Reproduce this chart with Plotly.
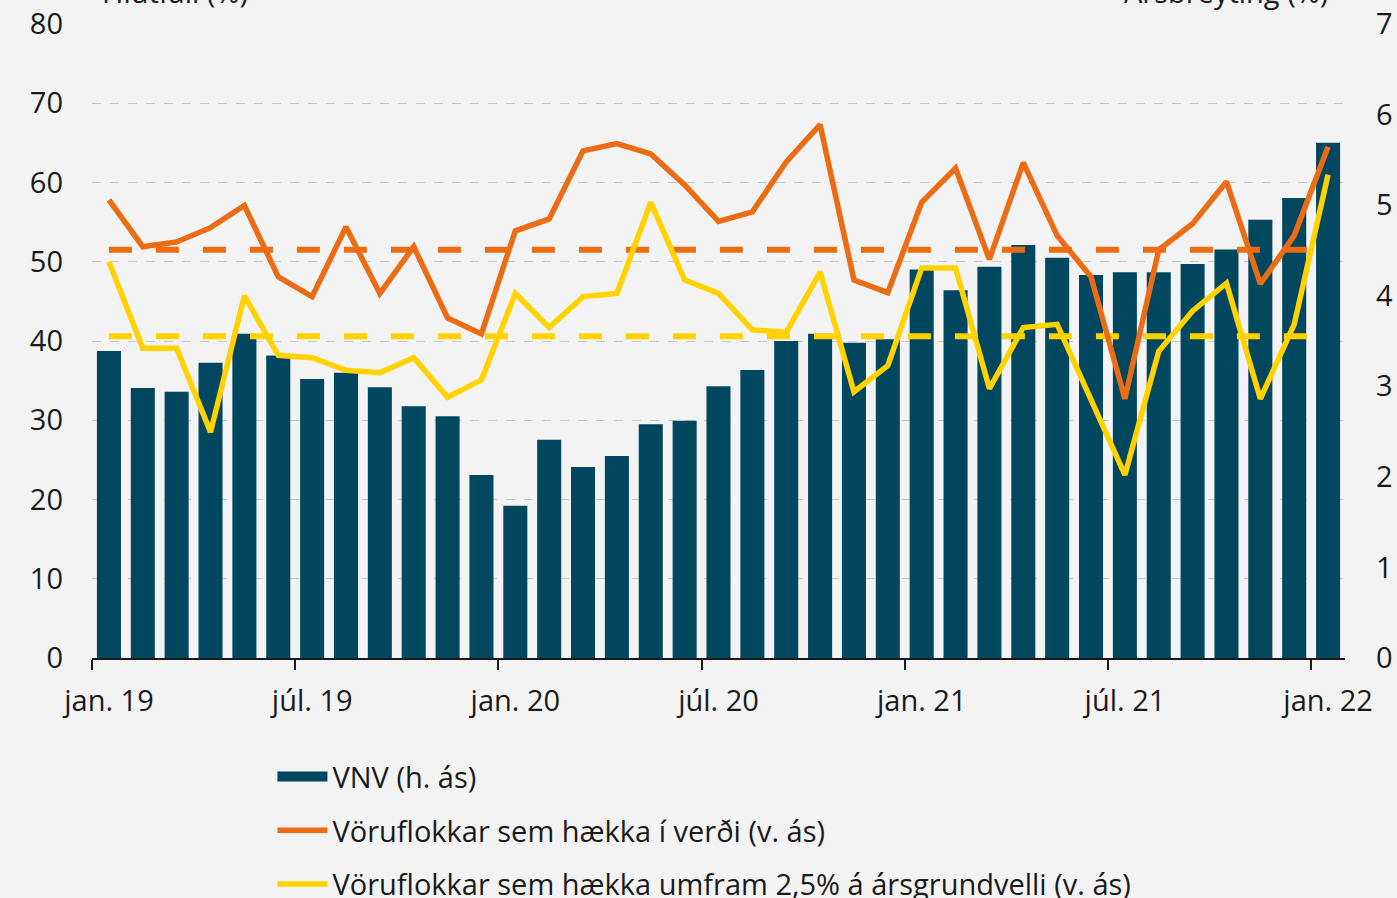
import plotly.graph_objects as go

months = ["jan. 19", "feb. 19", "mar. 19", "apr. 19", "maí 19", "jún. 19", "júl. 19", "ágú. 19", "sep. 19", "okt. 19", "nóv. 19", "des. 19",
          "jan. 20", "feb. 20", "mar. 20", "apr. 20", "maí 20", "jún. 20", "júl. 20", "ágú. 20", "sep. 20", "okt. 20", "nóv. 20", "des. 20",
          "jan. 21", "feb. 21", "mar. 21", "apr. 21", "maí 21", "jún. 21", "júl. 21", "ágú. 21", "sep. 21", "okt. 21", "nóv. 21", "des. 21",
          "jan. 22"]

vnv = [3.39, 2.98, 2.94, 3.26, 3.58, 3.34, 3.08, 3.15, 2.99, 2.78, 2.67, 2.02,
       1.68, 2.41, 2.11, 2.23, 2.58, 2.62, 3.00, 3.18, 3.50, 3.58, 3.48, 3.52,
       4.29, 4.06, 4.32, 4.56, 4.42, 4.23, 4.26, 4.26, 4.35, 4.51, 4.84, 5.08,
       5.69]

haekka = [57.8, 51.9, 52.5, 54.3, 57.1, 48.1, 45.6, 54.4, 46.0, 51.9, 42.9, 40.9,
          53.9, 55.4, 64.0, 64.9, 63.6, 59.7, 55.1, 56.3, 62.6, 67.3, 47.7, 46.1,
          57.5, 61.8, 50.3, 62.5, 53.3, 48.1, 32.7, 51.5, 54.8, 60.1, 47.2, 53.3,
          64.5]

umfram = [50.0, 39.1, 39.1, 28.5, 45.7, 38.2, 37.9, 36.3, 36.0, 37.9, 32.9, 35.1,
          46.0, 41.7, 45.6, 46.0, 57.5, 47.7, 46.0, 41.4, 41.1, 48.7, 33.6, 36.9,
          49.2, 49.2, 34.0, 41.7, 42.1, 32.7, 23.1, 38.7, 43.8, 47.3, 32.7, 42.1,
          61.0]

haekka_avg = 51.5
umfram_avg = 40.6

tick_labels = ["jan. 19", "júl. 19", "jan. 20", "júl. 20", "jan. 21", "júl. 21", "jan. 22"]

BAR = "#00475f"
ORANGE = "#ec6c13"
YELLOW = "#ffd200"
BG = "#f3f3f3"
FONT = "Open Sans, DejaVu Sans, sans-serif"
TXT = "#1a1a1a"

n = len(months)
xs = list(range(n))

fig = go.Figure()

fig.add_trace(go.Bar(x=xs, y=vnv, name="VNV (h. ás)", marker=dict(color=BAR, line=dict(width=0)),
                     yaxis="y", showlegend=False, hoverinfo="skip"))
# legend swatch for the bars (wide rectangle like the original)
fig.add_trace(go.Scatter(x=[None], y=[None], mode="lines", name="VNV (h. ás)", yaxis="y",
                         legendgroup="a", line=dict(color=BAR, width=20)))
fig.add_trace(go.Scatter(x=xs, y=[haekka_avg] * n, mode="lines", yaxis="y2", showlegend=False,
                         line=dict(color=ORANGE, width=6, dash="23px,24px"), hoverinfo="skip"))
fig.add_trace(go.Scatter(x=xs, y=[umfram_avg] * n, mode="lines", yaxis="y2", showlegend=False,
                         line=dict(color=YELLOW, width=6, dash="23px,24px"), hoverinfo="skip"))
fig.add_trace(go.Scatter(x=xs, y=haekka, mode="lines", name="Vöruflokkar sem hækka í verði (v. ás)",
                         yaxis="y2", legendgroup="b", line=dict(color=ORANGE, width=5.5)))
fig.add_trace(go.Scatter(x=xs, y=umfram, mode="lines",
                         name="Vöruflokkar sem hækka umfram 2,5% á ársgrundvelli (v. ás)",
                         yaxis="y2", legendgroup="c", line=dict(color=YELLOW, width=5.5)))

fig.update_layout(
    width=1397, height=898,
    paper_bgcolor=BG, plot_bgcolor=BG,
    margin=dict(l=92, r=52, t=24, b=240, autoexpand=False),
    font=dict(family=FONT, size=29, color=TXT),
    bargap=0.29,
    showlegend=True,
    legend=dict(x=0.144, xanchor="left", y=-0.147, yanchor="top", orientation="v",
                font=dict(family=FONT, size=29, color=TXT),
                itemwidth=50, tracegroupgap=13, bgcolor="rgba(0,0,0,0)", traceorder="grouped"),
    xaxis=dict(range=[-0.5, n - 0.5], tickmode="array", automargin=False,
               tickvals=[i - 0.5 for i in range(0, n, 6)], ticktext=tick_labels,
               ticks="outside", ticklen=10, tickwidth=2, tickcolor=TXT,
               ticklabelshift=17, ticklabelstandoff=6,
               showline=True, linecolor=TXT, linewidth=2, showgrid=False, zeroline=False),
    yaxis=dict(range=[0, 7], side="right", tickvals=list(range(0, 8)), showgrid=False, automargin=False,
               zeroline=False, showline=False, ticks="", ticklabelstandoff=30),
    yaxis2=dict(range=[0, 80], side="left", overlaying="y", tickvals=list(range(0, 81, 10)), automargin=False,
                showgrid=True, gridcolor="#c8c8c8", griddash="dash", gridwidth=1,
                zeroline=False, showline=False, ticks="", ticklabelstandoff=28),
)

fig.add_annotation(text="Hlutfall (%)", xref="paper", yref="paper", x=0.006, y=1.0 + (24 - 13) / 634,
                   xanchor="left", yanchor="bottom", showarrow=False,
                   font=dict(family=FONT, size=29, color=TXT))
fig.add_annotation(text="Ársbreyting (%)", xref="paper", yref="paper", x=(1330 - 92) / 1253, y=1.0 + (24 - 13) / 634,
                   xanchor="right", yanchor="bottom", showarrow=False,
                   font=dict(family=FONT, size=29, color=TXT))

fig.write_html("out.html", config={"displayModeBar": False},
               post_script="document.body.style.margin='0';document.body.style.overflow='hidden';")
